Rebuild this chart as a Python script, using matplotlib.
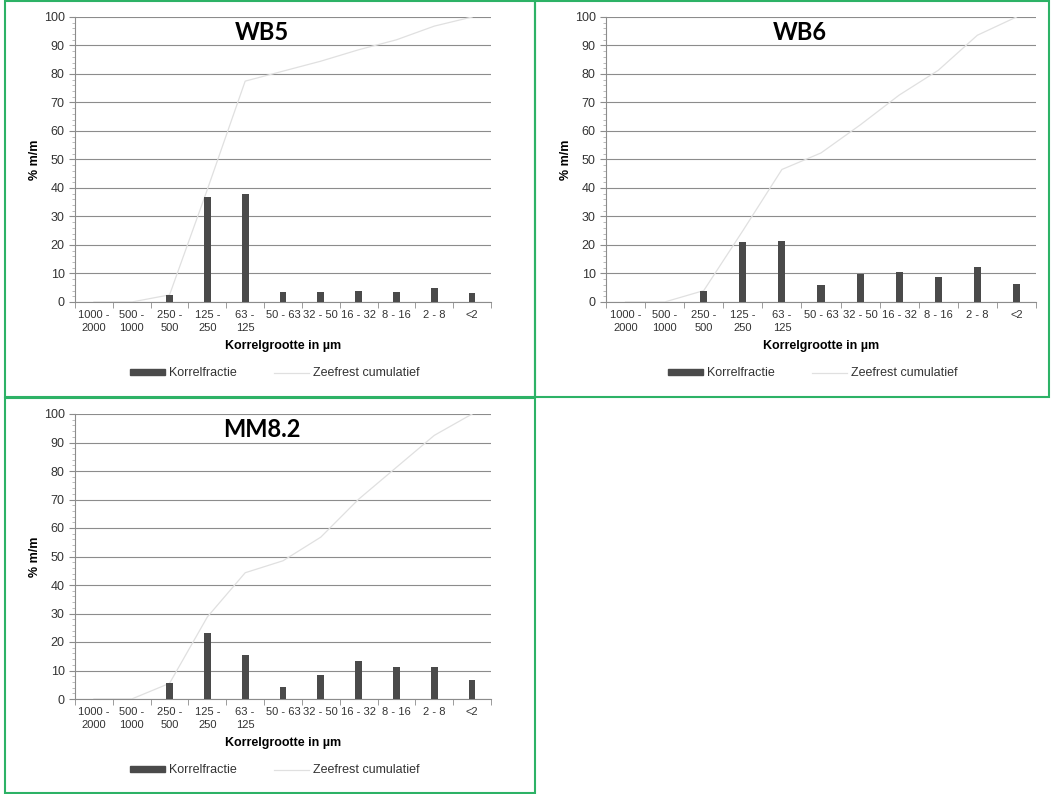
import matplotlib.pyplot as plt
from matplotlib.patches import Rectangle
from matplotlib.lines import Line2D
import numpy as np

plt.rcParams['font.family'] = ['Liberation Sans', 'DejaVu Sans']

# Data
categories = ['1000 -\n2000', '500 -\n1000', '250 -\n500', '125 -\n250', '63 -\n125',
              '50 - 63', '32 - 50', '16 - 32', '8 - 16', '2 - 8', '<2']

wb5_fraction = [0, 0, 2.5, 37, 38, 3.5, 3.5, 4, 3.5, 4.8, 3.2]
wb5_cumulative = [0, 0, 2.5, 39.5, 77.5, 81, 84.5, 88.5, 92, 96.8, 100]

wb6_fraction = [0, 0, 4, 21, 21.5, 5.8, 9.8, 10.5, 8.7, 12.3, 6.3]
wb6_cumulative = [0, 0, 4, 25, 46.5, 52.3, 62.1, 72.6, 81.3, 93.6, 100]

mm82_fraction = [0, 0, 5.5, 23.3, 15.5, 4.2, 8.3, 13.3, 11.2, 11.2, 6.5]
mm82_cumulative = [0, 0, 5.5, 28.8, 44.3, 48.5, 56.8, 70.1, 81.3, 92.5, 100]

W, H = 1051, 794
fig = plt.figure(figsize=(W / 100, H / 100), dpi=100)
fig.patch.set_facecolor('white')

green = '#2db266'
line_col = '#e0e0e0'
# panel borders (pixels: x0, y0, x1, y1 from top-left)
for x0, y0, x1, y1 in [(5, 1, 535, 397), (535, 1, 1049, 397), (5, 398, 535, 793)]:
    fig.patches.append(Rectangle((x0 / W, 1 - y1 / H), (x1 - x0) / W, (y1 - y0) / H,
                                 transform=fig.transFigure, fill=False,
                                 edgecolor=green, linewidth=1.5))


def draw_panel(rect, title, fraction, cumulative):
    x0, y0, x1, y1 = rect
    ax = fig.add_axes([x0 / W, 1 - y1 / H, (x1 - x0) / W, (y1 - y0) / H])
    x = np.arange(len(categories))
    ax.bar(x, fraction, width=0.18, color='#4a4a4a', zorder=3)
    ax.plot(x, cumulative, color=line_col, linewidth=0.9, zorder=2)

    ax.set_xlim(-0.5, len(categories) - 0.5)
    ax.set_ylim(0, 100)
    ax.set_yticks(range(0, 101, 10))
    ax.set_yticks(range(0, 101, 2), minor=True)
    ax.yaxis.grid(True, color='#8c8c8c', linewidth=0.8, zorder=0)
    ax.set_xticks(x)
    ax.set_xticklabels(categories, fontsize=8, color='#333333', linespacing=1.3)
    ax.set_xticks(np.arange(-0.5, len(categories), 1), minor=True)
    ax.tick_params(axis='x', which='major', length=0, pad=6)
    ax.tick_params(axis='x', which='minor', length=4, color='#8c8c8c')
    ax.tick_params(axis='y', which='major', length=4, labelsize=9, color='#8c8c8c',
                   labelcolor='#333333')
    ax.tick_params(axis='y', which='minor', length=2, color='#b0b0b0')

    for s in ['top', 'right']:
        ax.spines[s].set_visible(False)
    ax.spines['left'].set_color('#8c8c8c')
    ax.spines['bottom'].set_color('#8c8c8c')

    ax.set_ylabel('% m/m', fontsize=9, fontweight='bold', labelpad=2)
    ax.set_xlabel('Korrelgrootte in µm', fontsize=9, fontweight='bold', labelpad=5)
    ax.text(0.45, 0.945, title, transform=ax.transAxes, ha='center', va='center',
            fontsize=17, fontweight='bold', family=['Lato', 'DejaVu Sans'])

    handles = [Rectangle((0, 0), 1, 1, color='#4a4a4a'),
               Line2D([0], [0], color=line_col, linewidth=0.9)]
    leg = ax.legend(handles, ['Korrelfractie', 'Zeefrest cumulatief'],
                    loc='upper center', bbox_to_anchor=(0.48, -0.19), ncol=2,
                    frameon=False, fontsize=9, handlelength=2.8, handleheight=0.35,
                    columnspacing=3, handletextpad=0.3)
    for t in leg.get_texts():
        t.set_color('#333333')
    return ax


draw_panel((75, 17, 491, 302), 'WB5', wb5_fraction, wb5_cumulative)
draw_panel((606, 17, 1036, 302), 'WB6', wb6_fraction, wb6_cumulative)
draw_panel((75, 414, 491, 699), 'MM8.2', mm82_fraction, mm82_cumulative)

fig.savefig('out.png', dpi=100)
